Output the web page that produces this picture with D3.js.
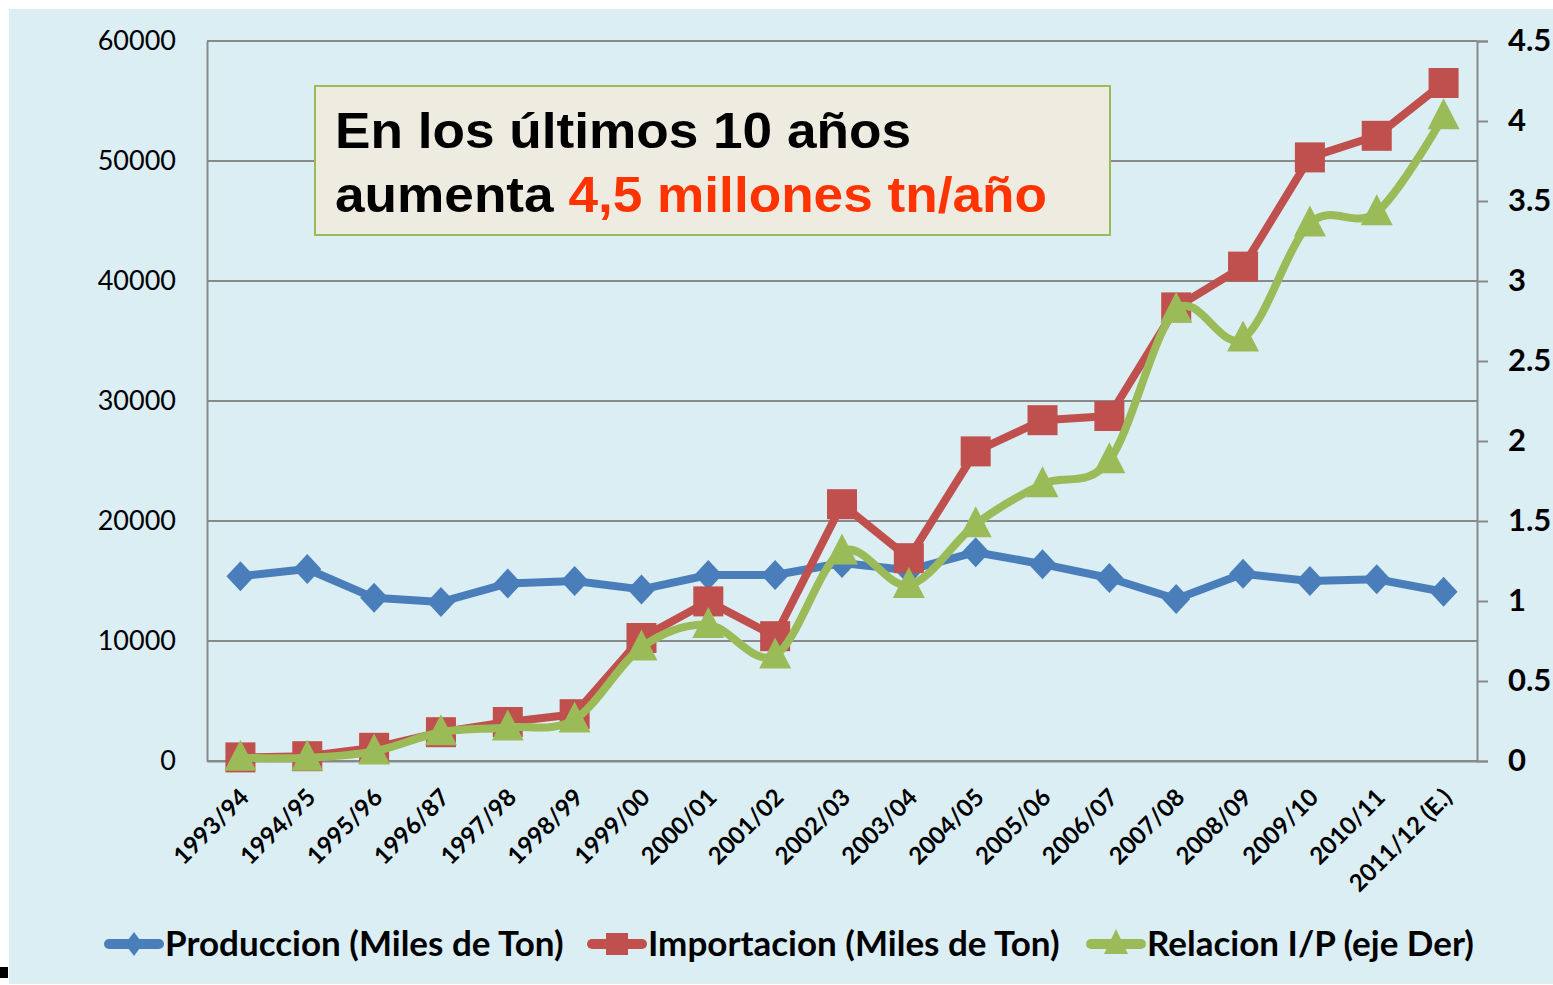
<!DOCTYPE html>
<html lang="es">
<head>
<meta charset="UTF-8">
<title>Produccion e Importacion</title>
<style>
  body { margin: 0; background: #fff; }
  svg { display: block; }
  .tick text { font-family: Lato, 'Open Sans', sans-serif; fill: #000; }
</style>
<script src="https://d3js.org/d3.v7.min.js"></script>
</head>
<body>
<svg width="1553" height="985"></svg>
<script>
const campanas = ['1993/94','1994/95','1995/96','1996/87','1997/98','1998/99','1999/00','2000/01','2001/02',
  '2002/03','2003/04','2004/05','2005/06','2006/07','2007/08','2008/09','2009/10','2010/11','2011/12 (E.)'];
const produccion = [15400,16000,13600,13250,14800,15000,14300,15500,15500,16500,15900,17400,16400,15250,13500,15600,15000,15150,14100];
const importacion = [300,400,1100,2400,3250,3900,10250,13300,10400,21400,16900,25800,28400,28750,37800,41200,50300,52100,56500];
const relacion = [0.02,0.02,0.06,0.18,0.21,0.26,0.71,0.85,0.66,1.31,1.10,1.48,1.73,1.88,2.82,2.64,3.36,3.43,4.03];
const ticksIzq = [0,10000,20000,30000,40000,50000,60000];
const ticksDer = [0,0.5,1,1.5,2,2.5,3,3.5,4,4.5];
const leyenda = ['Produccion (Miles de Ton)','Importacion (Miles de Ton)','Relacion I/P (eje Der)'];

const svg = d3.select("svg");
const margin = {left: 207, right: 1477, top: 41, bottom: 761};

svg.append("rect").attr("x", 9).attr("y", 9).attr("width", 1544).attr("height", 975).attr("fill", "#dbeef4");
svg.append("rect").attr("x", 0).attr("y", 967).attr("width", 8).attr("height", 11).attr("fill", "#000");

const x = d3.scaleBand().domain(campanas).range([margin.left, margin.right]);
const yL = d3.scaleLinear().domain([0, 60000]).range([margin.bottom, margin.top]);
const yR = d3.scaleLinear().domain([0, 4.5]).range([margin.bottom, margin.top]);
const cx = d => x(d) + x.bandwidth() / 2;

// grid lines
svg.append("g").selectAll("line").data(ticksIzq).join("line")
  .attr("x1", margin.left).attr("x2", margin.right)
  .attr("y1", d => yL(d)).attr("y2", d => yL(d))
  .attr("stroke", "#898989").attr("stroke-width", 2);

// left axis
const axL = svg.append("g").attr("transform", `translate(${margin.left},0)`)
  .call(d3.axisLeft(yL).tickValues(ticksIzq).tickSize(0).tickPadding(31).tickFormat(d3.format("d")));
axL.select(".domain").attr("stroke", "#898989").attr("stroke-width", 2);
axL.selectAll("text").attr("font-size", 27);

// right axis
const axR = svg.append("g").attr("transform", `translate(${margin.right},0)`)
  .call(d3.axisRight(yR).tickValues(ticksDer).tickSize(11).tickPadding(20).tickFormat(d => String(d)));
axR.select(".domain").attr("stroke", "#898989").attr("stroke-width", 2);
axR.selectAll("line").attr("stroke", "#898989").attr("stroke-width", 2);
axR.selectAll("text").attr("font-size", 31).attr("font-weight", "bold");

// bottom axis
const axB = svg.append("g").attr("transform", `translate(0,${margin.bottom})`)
  .call(d3.axisBottom(x).tickSize(0).tickPadding(0));
axB.select(".domain").attr("stroke", "#898989").attr("stroke-width", 2);
axB.selectAll("text")
  .attr("font-size", 24).attr("font-weight", "bold")
  .attr("text-anchor", "end").attr("dy", "0.35em")
  .attr("transform", "translate(4,32) rotate(-45)");

// series
const azul = "#4a7ebb", rojo = "#c0504d", verde = "#9bbb59";

svg.append("path").datum(produccion)
  .attr("fill", "none").attr("stroke", azul).attr("stroke-width", 8).attr("stroke-linejoin", "round")
  .attr("d", d3.line().x((d, i) => cx(campanas[i])).y(d => yL(d)));
svg.append("g").selectAll("path").data(produccion).join("path")
  .attr("transform", (d, i) => `translate(${cx(campanas[i])},${yL(d)})`)
  .attr("d", "M0,-15L14,0L0,15L-14,0Z").attr("fill", azul);

svg.append("path").datum(importacion)
  .attr("fill", "none").attr("stroke", rojo).attr("stroke-width", 8).attr("stroke-linejoin", "round")
  .attr("d", d3.line().x((d, i) => cx(campanas[i])).y(d => yL(d)));
svg.append("g").selectAll("rect").data(importacion).join("rect")
  .attr("x", (d, i) => cx(campanas[i]) - 15).attr("y", d => yL(d) - 15)
  .attr("width", 30).attr("height", 30).attr("fill", rojo);

svg.append("path").datum(relacion)
  .attr("fill", "none").attr("stroke", verde).attr("stroke-width", 8).attr("stroke-linejoin", "round")
  .attr("d", d3.line().curve(d3.curveCardinal.tension(0)).x((d, i) => cx(campanas[i])).y(d => yR(d)));
svg.append("g").selectAll("path").data(relacion).join("path")
  .attr("transform", (d, i) => `translate(${cx(campanas[i])},${yR(d)})`)
  .attr("d", "M0,-18L16,13L-16,13Z").attr("fill", verde);

// annotation box
const box = svg.append("g");
box.append("rect").attr("x", 315).attr("y", 86).attr("width", 795).attr("height", 149)
  .attr("fill", "#eeebe1").attr("stroke", "#9bbb59").attr("stroke-width", 2);
box.append("text").attr("x", 335).attr("y", 148)
  .attr("font-family", "'Liberation Sans', Arial, sans-serif").attr("font-weight", "bold").attr("font-size", 50)
  .attr("textLength", 576).attr("lengthAdjust", "spacingAndGlyphs")
  .text("En los últimos 10 años");
const t2 = box.append("text").attr("x", 335).attr("y", 212)
  .attr("font-family", "'Liberation Sans', Arial, sans-serif").attr("font-weight", "bold").attr("font-size", 50)
  .attr("textLength", 712).attr("lengthAdjust", "spacingAndGlyphs");
t2.append("tspan").text("aumenta ");
t2.append("tspan").attr("fill", "#ff3300").text("4,5 millones tn/año");

// legend
const legX = [105, 588, 1087];
const colores = [azul, rojo, verde];
const lg = svg.append("g").selectAll("g").data(leyenda).join("g")
  .attr("transform", (d, i) => `translate(${legX[i]},944)`);
lg.append("line").attr("x1", 4).attr("x2", 54).attr("stroke", (d, i) => colores[i])
  .attr("stroke-width", 10).attr("stroke-linecap", "round");
lg.filter((d, i) => i === 0).append("path").attr("d", "M29,-12L38,0L29,12L20,0Z").attr("fill", azul);
lg.filter((d, i) => i === 1).append("rect").attr("x", 18).attr("y", -11).attr("width", 22).attr("height", 22).attr("fill", rojo);
lg.filter((d, i) => i === 2).append("path").attr("d", "M29,-15L41,10L17,10Z").attr("fill", verde);
lg.append("text").attr("x", 60).attr("dy", "0.35em")
  .attr("font-family", "Lato, 'Open Sans', sans-serif").attr("font-weight", "bold").attr("font-size", 35)
  .text(d => d);
</script>
</body>
</html>
